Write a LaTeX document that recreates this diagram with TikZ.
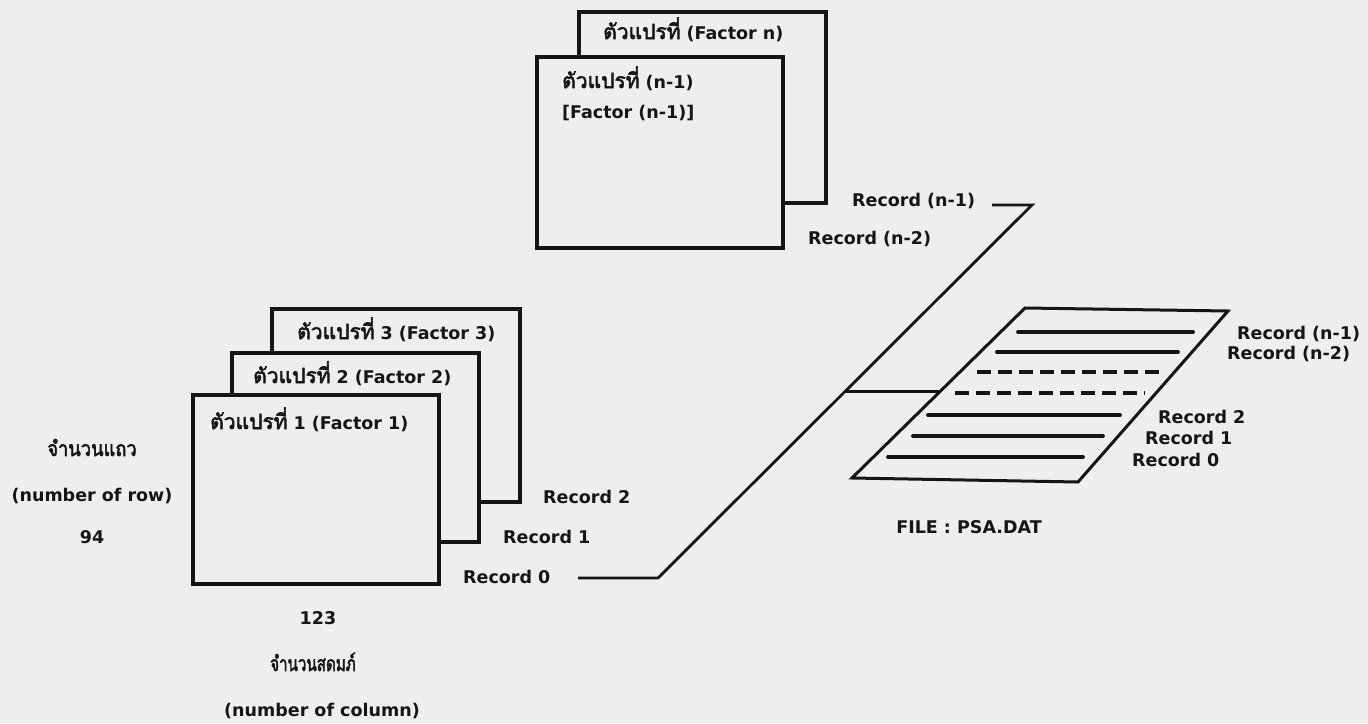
\documentclass[tikz,border=0pt]{standalone}
\usepackage{fontspec}
\setmainfont{DejaVu Sans}
\newfontfamily\thaifont[Script=Thai,Scale=1.2,AutoFakeBold=2.5]{Loma}
\usetikzlibrary{calc}
\definecolor{paper}{HTML}{EEEEEE}
\definecolor{ink}{HTML}{151515}
\newcommand\thtxt[1]{{\thaifont\bfseries #1}}
\tikzset{
  sheet/.style={draw=ink, fill=paper, line width=3.4pt, minimum width=247pt, minimum height=191pt, anchor=north west, inner sep=0pt, outer sep=0pt},
  lbl/.style={anchor=base west, inner sep=0pt, text=ink, font=\fontsize{17.5}{20}\selectfont\bfseries},
  clbl/.style={anchor=base, inner sep=0pt, text=ink, font=\fontsize{17.5}{20}\selectfont\bfseries},
  conn/.style={draw=ink, line width=2.8pt, line join=miter},
  recline/.style={draw=ink, line width=3.8pt, line cap=round},
  recdash/.style={draw=ink, line width=3.8pt, dash pattern=on 14pt off 7pt},
  plate/.style={draw=ink, line width=3pt, line join=miter}
}
\begin{document}
\begin{tikzpicture}[x=1pt,y=-1pt]
\useasboundingbox (0,0) rectangle (1368,723);
\fill[paper] (0,0) rectangle (1368,723);

% top stack
\node[sheet] (fn) at (579,12) {};
\node[sheet, minimum width=246pt] (fn1) at (537,57) {};
\node[lbl] (tn) at (603,39) {\thtxt{ตัวแปรที่} (Factor n)};
\node[lbl] (tn1a) at (562,88) {\thtxt{ตัวแปรที่} (n-1)};
\node[lbl] (tn1b) at (562,118) {[Factor (n-1)]};
\node[lbl] (rn1) at (852,206) {Record (n-1)};
\node[lbl] (rn2) at (808,244) {Record (n-2)};

% bottom stack
\node[sheet, minimum width=248pt, minimum height=193pt] (f3) at (272,309) {};
\node[sheet, minimum height=189pt] (f2) at (232,353) {};
\node[sheet, minimum width=246pt, minimum height=189pt] (f1) at (193,395) {};
\node[lbl] (t3) at (297,339) {\thtxt{ตัวแปรที่} 3 (Factor 3)};
\node[lbl] (t2) at (253,383) {\thtxt{ตัวแปรที่} 2 (Factor 2)};
\node[lbl] (t1) at (210,429) {\thtxt{ตัวแปรที่} 1 (Factor 1)};
\node[lbl] (r2) at (543,503) {Record 2};
\node[lbl] (r1) at (503,543) {Record 1};
\node[lbl] (r0) at (463,583) {Record 0};

% left and bottom labels
\node[clbl] (rowth) at (92,456) {\scalebox{0.87}[1]{\thtxt{จำนวนแถว}}};
\node[clbl] (rowen) at (92,501) {(number of row)};
\node[clbl] (rown) at (92,543) {94};
\node[clbl] (coln) at (318,624) {123};
\node[clbl] (colth) at (313,671) {\scalebox{0.72}[1]{\thtxt{จำนวนสดมภ์}}};
\node[clbl] (colen) at (322,716) {(number of column)};

% connector
\coordinate (c0) at (578,578);
\coordinate (c1) at (658,578);
\coordinate (c2) at (1032,205);
\coordinate (c3) at (992,205);
\coordinate (cm) at ($(c1)!0.5!(c2)$);
\draw[conn] (c0) -- (c1) -- (c2) -- (c3);

% file plate
\coordinate (pTL) at (1025,308);
\coordinate (pTR) at (1228,311);
\coordinate (pBR) at (1078,482);
\coordinate (pBL) at (852,478);
\coordinate (pm) at (941,391.5);
\draw[plate] (pTL) -- (pTR) -- (pBR) -- (pBL) -- cycle;
\draw[conn] (cm) -- (pm);

\coordinate (l1a) at (1018,332); \coordinate (l1b) at (1193,332);
\coordinate (l2a) at (997,352);  \coordinate (l2b) at (1178,352);
\coordinate (l3a) at (977,372);  \coordinate (l3b) at (1163,372);
\coordinate (l4a) at (955,393);  \coordinate (l4b) at (1145,393);
\coordinate (l5a) at (928,415);  \coordinate (l5b) at (1120,415);
\coordinate (l6a) at (913,436);  \coordinate (l6b) at (1103,436);
\coordinate (l7a) at (888,457);  \coordinate (l7b) at (1083,457);
\draw[recline] (l1a) -- (l1b);
\draw[recline] (l2a) -- (l2b);
\draw[recdash] (l3a) -- (l3b);
\draw[recdash] (l4a) -- (l4b);
\draw[recline] (l5a) -- (l5b);
\draw[recline] (l6a) -- (l6b);
\draw[recline] (l7a) -- (l7b);

\node[lbl] (frn1) at (1237,339) {Record (n-1)};
\node[lbl] (frn2) at (1227,359) {Record (n-2)};
\node[lbl] (fr2) at (1158,423) {Record 2};
\node[lbl] (fr1) at (1145,444) {Record 1};
\node[lbl] (fr0) at (1132,466) {Record 0};
\node[clbl] (file) at (969,533) {FILE : PSA.DAT};
\end{tikzpicture}
\end{document}
